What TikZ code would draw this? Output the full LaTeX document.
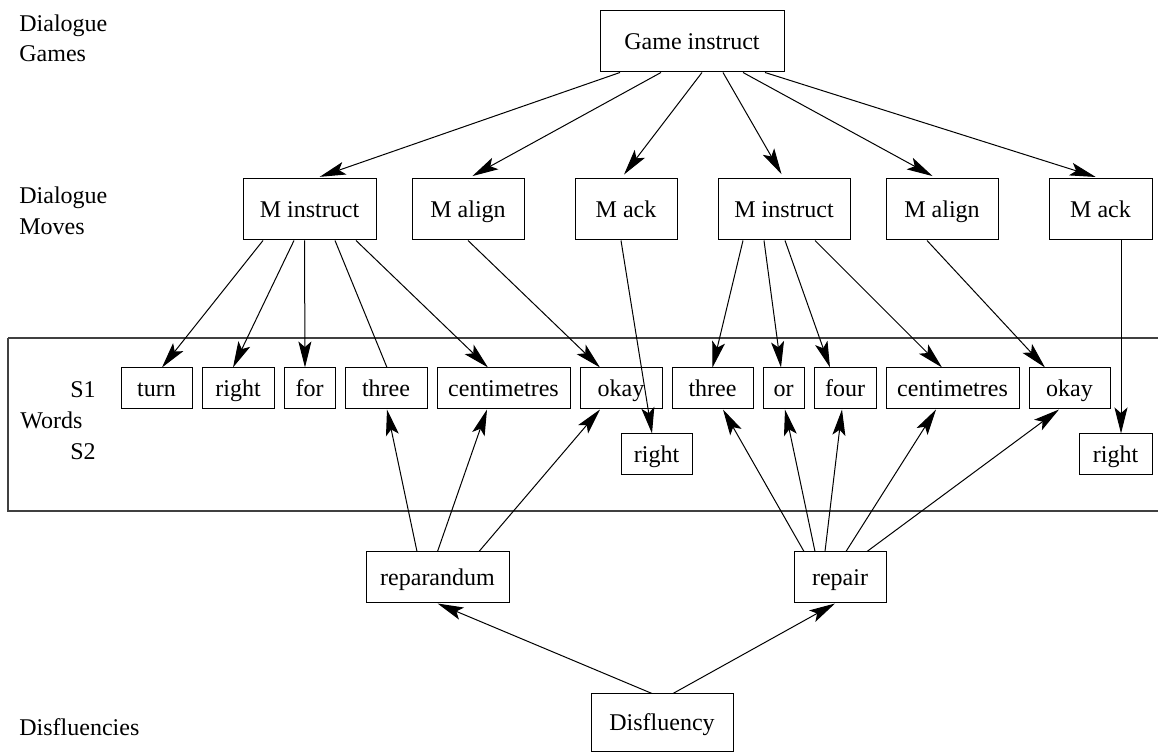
\documentclass[tikz,border=0pt]{standalone}
\usepackage{fontspec}
\setmainfont{Liberation Serif}
\usetikzlibrary{arrows.meta}
\begin{document}
\begin{tikzpicture}[x=0.5pt,y=-0.5pt,
  font=\rmfamily\fontsize{12}{14.4}\selectfont,
  box/.style 2 args={draw, line width=0.5pt, inner sep=0pt, text height=9pt, text depth=1pt,
     minimum width=#1*0.5pt, minimum height=#2*0.5pt},
  lbl/.style={anchor=base west, inner sep=0pt},
  conn/.style={line width=0.5pt},
  arr/.style={conn, -{Stealth[length=13pt,width=6.5pt,inset=2.8pt]}},
  toparr/.style={arr, shorten >=2.5pt}]
\useasboundingbox (0,0) rectangle (1158,753);

% level labels
\node[lbl] (lg1) at (19,32) {Dialogue};
\node[lbl] (lg2) at (19,62) {Games};
\node[lbl] (lm1) at (19,204) {Dialogue};
\node[lbl] (lm2) at (19,235) {Moves};
\node[lbl] (ls1) at (70,398) {S1};
\node[lbl] (lw) at (20,429) {Words};
\node[lbl] (ls2) at (70,460) {S2};
\node[lbl] (ld) at (19,736) {Disfluencies};

% words frame
\draw[line width=0.6pt, black!75] (8,338) -- (1162,338) (8,338) -- (8,511) -- (1162,511);

% game
\node[box={184}{61}] (gi) at (692,41.5) {Game instruct};
% moves
\node[box={133}{61}] (mi1) at (309.5,209.5) {M instruct};
\node[box={112}{61}] (ma1) at (468,209.5) {M align};
\node[box={102}{61}] (mk1) at (626,209.5) {M ack};
\node[box={132}{61}] (mi2) at (784,209.5) {M instruct};
\node[box={112}{61}] (ma2) at (942,209.5) {M align};
\node[box={103}{61}] (mk2) at (1100.5,209.5) {M ack};
% words S1
\node[box={71}{41}] (turn) at (156.5,388.5) {turn};
\node[box={72}{41}] (right) at (238,388.5) {right};
\node[box={51}{41}] (for) at (309.5,388.5) {for};
\node[box={82}{41}] (three) at (386,388.5) {three};
\node[box={133}{41}] (cent) at (503.5,388.5) {centimetres};
\node[box={82}{41}] (okay) at (621,388.5) {okay};
\node[box={81}{41}] (threeb) at (712.5,388.5) {three};
\node[box={41}{41}] (or) at (783.5,388.5) {or};
\node[box={62}{41}] (four) at (845,388.5) {four};
\node[box={133}{41}] (centb) at (952.5,388.5) {centimetres};
\node[box={81}{41}] (okayb) at (1069.5,388.5) {okay};
% words S2
\node[box={71}{41}] (rightb) at (656.5,454.5) {right};
\node[box={73}{41}] (rightc) at (1115.5,454.5) {right};
% disfluency
\node[box={143}{51}] (rep) at (437.5,577.5) {reparandum};
\node[box={92}{51}] (repair) at (840,577.5) {repair};
\node[box={142}{58}] (disf) at (662,723) {Disfluency};

% game -> moves
\draw[toparr] ([xshift=-36pt]gi.south) -- ([xshift=2.75pt]mi1.north);
\draw[toparr] ([xshift=-15.5pt]gi.south) -- (ma1.north);
\draw[toparr] ([xshift=5pt]gi.south) -- ([xshift=-2.5pt]mk1.north);
\draw[toparr] ([xshift=15.5pt]gi.south) -- (mi2.north);
\draw[toparr] ([xshift=25.5pt]gi.south) -- ([xshift=-2.5pt]ma2.north);
\draw[toparr] ([xshift=36.5pt]gi.south) -- (mk2.north);

% moves -> words
\draw[arr] ([xshift=-23.25pt]mi1.south) -- ([xshift=2.75pt]turn.north);
\draw[arr] ([xshift=-7.75pt]mi1.south) -- ([xshift=-2.5pt]right.north);
\draw[arr] ([xshift=-2.5pt]mi1.south) -- ([xshift=-2.25pt]for.north);
\draw[conn] ([xshift=12.75pt]mi1.south) -- ([xshift=0.5pt]three.north);
\draw[arr] ([xshift=23.25pt]mi1.south) -- ([xshift=-7.75pt]cent.north);
\draw[arr] (ma1.south) -- ([xshift=-10.5pt]okay.north);
\draw[arr] ([xshift=-2.5pt]mk1.south) -- ([xshift=-2.25pt]rightb.north);
\draw[arr] ([xshift=-20.5pt]mi2.south) -- (threeb.north);
\draw[arr] ([xshift=-10pt]mi2.south) -- ([xshift=-1.25pt]or.north);
\draw[arr] ([xshift=0.5pt]mi2.south) -- ([xshift=-7.5pt]four.north);
\draw[arr] ([xshift=15.5pt]mi2.south) -- ([xshift=-5.25pt]centb.north);
\draw[arr] ([xshift=-7.5pt]ma2.south) -- ([xshift=-12.25pt]okayb.north);
\draw[arr] ([xshift=10.25pt]mk2.south) -- ([xshift=2.75pt]rightc.north);

% disfluency parts -> words
\draw[arr] ([xshift=-10.25pt]rep.north) -- ([xshift=0.5pt]three.south);
\draw[arr] (rep.north) -- ([xshift=-8.25pt]cent.south);
\draw[arr] ([xshift=20.75pt]rep.north) -- ([xshift=-10.5pt]okay.south);
\draw[arr] ([xshift=-18pt]repair.north) -- ([xshift=5.25pt]threeb.south);
\draw[arr] ([xshift=-12.5pt]repair.north) -- ([xshift=0.75pt]or.south);
\draw[arr] ([xshift=-7.5pt]repair.north) -- ([xshift=-1.5pt]four.south);
\draw[arr] ([xshift=3pt]repair.north) -- ([xshift=-8.25pt]centb.south);
\draw[arr] ([xshift=13.5pt]repair.north) -- ([xshift=-5.25pt]okayb.south);

% disfluency -> parts
\draw[arr] ([xshift=-5pt]disf.north) -- (rep.south);
\draw[arr] ([xshift=5.5pt]disf.north) -- ([xshift=-2.5pt]repair.south);
\end{tikzpicture}
\end{document}
